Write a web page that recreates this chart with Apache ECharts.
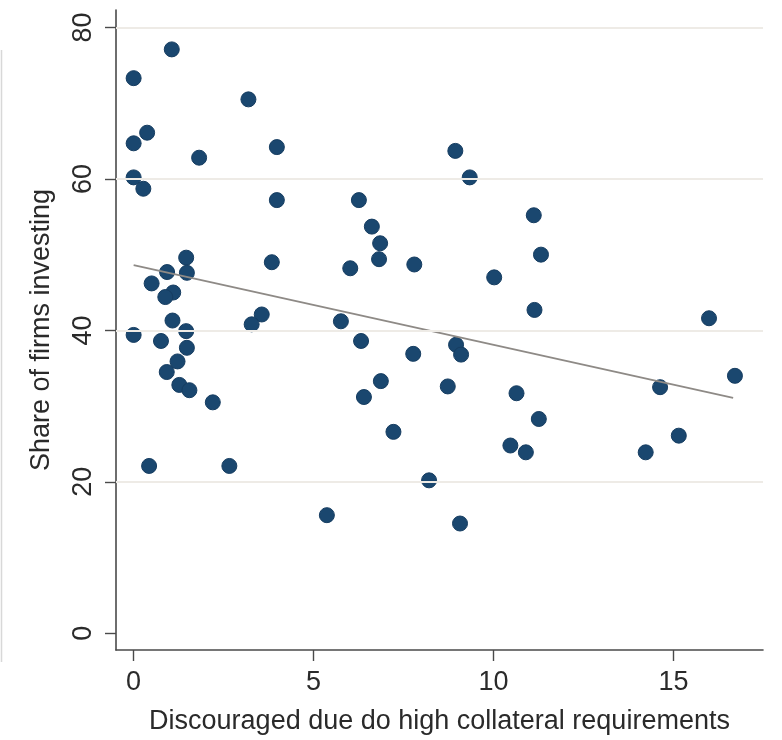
<!DOCTYPE html>
<html>
<head>
<meta charset="utf-8">
<script src="https://cdn.jsdelivr.net/npm/echarts@6/dist/echarts.min.js"></script>
<style>
  html, body { margin: 0; padding: 0; background: #ffffff; }
  #chart { width: 782px; height: 740px; }
</style>
</head>
<body>
<div id="chart"></div>
<script>
// Discouraged borrowers (x) against share of firms investing (y), one point per economy
const discouraged = [
  0, 0, 0, 0, 0.27, 0.375, 1.06, 1.82, 3.19, 3.98, 3.98,
  6.26, 8.94, 9.34, 6.62, 6.85, 11.12, 11.32,
  3.84, 6.02, 6.82, 7.8, 10.02, 11.14, 3.56, 3.28, 5.76,
  6.32, 7.77, 8.96, 9.1, 6.87, 6.4, 8.73, 10.64, 7.22, 10.47, 10.9, 8.21, 5.37, 9.07,
  15.99, 16.71, 14.63, 11.26, 14.23, 15.15,
  1.46, 1.48, 0.93, 0.5, 1.1, 0.88, 1.08, 1.46, 0.76, 1.48, 1.22, 0.92, 1.27, 1.55, 2.2, 0.43, 2.66
];
const investing = [
  73.3, 64.7, 60.2, 39.4, 58.7, 66.1, 77.1, 62.8, 70.5, 64.2, 57.2,
  57.2, 63.7, 60.2, 53.7, 51.5, 55.2, 50.0,
  49.0, 48.2, 49.4, 48.7, 47.0, 42.7, 42.1, 40.8, 41.2,
  38.6, 36.9, 38.1, 36.8, 33.3, 31.2, 32.6, 31.7, 26.6, 24.8, 23.9, 20.2, 15.6, 14.5,
  41.6, 34.0, 32.5, 28.3, 23.9, 26.1,
  49.6, 47.6, 47.7, 46.2, 45.0, 44.4, 41.3, 39.9, 38.6, 37.7, 35.9, 34.5, 32.8, 32.1, 30.5, 22.1, 22.1
];

// Linear fit endpoints (at the smallest and largest x)
const fitX = [0, 16.66];
const fitY = [48.6, 31.1];

// Axis ticks and grid rows
const xTicks = [0, 5, 10, 15];
const yTicks = [0, 20, 40, 60, 80];
const yGrid = [20, 40, 60, 80];

const xTitle = 'Discouraged due do high collateral requirements';
const yTitle = 'Share of firms investing';

const points = discouraged.map((x, i) => [x, investing[i]]);
const fitLine = fitX.map((x, i) => [x, fitY[i]]);

const FONT = '"Liberation Sans", Arial, Helvetica, sans-serif';
const TEXT = '#2a2a2a';
const AXIS = '#4a4a4a';

const chart = echarts.init(document.getElementById('chart'), null, { renderer: 'canvas' });

chart.setOption({
  animation: false,
  backgroundColor: '#ffffff',
  textStyle: { fontFamily: FONT },
  grid: {
    left: 116, right: 19, top: 10, bottom: 90,
    outerBoundsMode: 'none'
  },
  xAxis: {
    type: 'value',
    min: -0.49,
    max: 17.49,
    name: xTitle,
    nameLocation: 'middle',
    nameGap: 58,
    nameTextStyle: { fontSize: 27, color: TEXT, fontFamily: FONT },
    axisLine: { show: true, onZero: false, lineStyle: { color: AXIS, width: 1.6 } },
    axisTick: { show: true, length: 11, customValues: xTicks, lineStyle: { color: AXIS, width: 1.4 } },
    axisLabel: { customValues: xTicks, margin: 19, fontSize: 27, color: TEXT, fontFamily: FONT },
    splitLine: { show: false }
  },
  yAxis: {
    type: 'value',
    min: -2.2,
    max: 82.3,
    name: yTitle,
    nameLocation: 'middle',
    nameGap: 61,
    nameTextStyle: { fontSize: 27, color: TEXT, fontFamily: FONT },
    axisLine: { show: true, onZero: false, lineStyle: { color: AXIS, width: 1.6 } },
    axisTick: { show: true, length: 11, customValues: yTicks, lineStyle: { color: AXIS, width: 1.4 } },
    axisLabel: { customValues: yTicks, rotate: 90, margin: 19, fontSize: 27, color: TEXT, fontFamily: FONT },
    splitLine: { show: false }
  },
  graphic: [{
    type: 'line',
    shape: { x1: 1.5, y1: 50, x2: 1.5, y2: 662 },
    style: { stroke: '#d8d8d8', lineWidth: 1.5 },
    silent: true
  }],
  series: [
    {
      type: 'scatter',
      data: points,
      symbol: 'circle',
      symbolSize: 15,
      itemStyle: { color: '#1a476f', borderColor: '#163d61', borderWidth: 1, opacity: 1 },
      z: 3,
      markLine: {
        silent: true,
        symbol: 'none',
        label: { show: false },
        lineStyle: { color: '#eeebe6', width: 2, type: 'solid' },
        data: yGrid.map(v => ({ yAxis: v }))
      }
    },
    {
      type: 'line',
      data: fitLine,
      showSymbol: false,
      symbol: 'none',
      lineStyle: { color: '#8e8a86', width: 1.8 },
      z: 4
    }
  ]
});
</script>
</body>
</html>
